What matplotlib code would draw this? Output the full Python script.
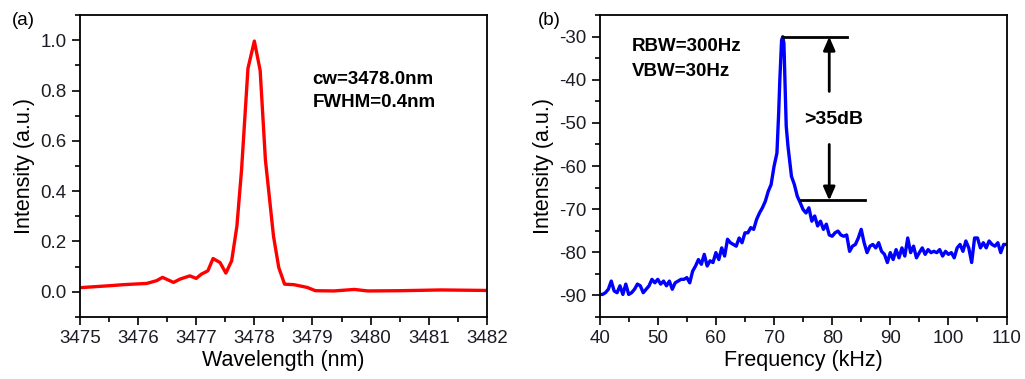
"""Recreate the two-panel laser spectrum figure: optical spectrum and RF spectrum"""
import matplotlib
matplotlib.use("Agg")
import matplotlib.pyplot as plt
from matplotlib.ticker import MultipleLocator

plt.rcParams["font.family"] = ["Liberation Sans", "DejaVu Sans"]
plt.rcParams["axes.unicode_minus"] = False

# (a) optical spectrum
wavelength = [3475.0, 3475.52, 3475.75, 3476.15, 3476.32, 3476.42, 3476.61,
              3476.72, 3476.89, 3477.0, 3477.09, 3477.2, 3477.29, 3477.41,
              3477.51, 3477.61, 3477.70, 3477.78, 3477.89, 3478.0, 3478.1,
              3478.19, 3478.33, 3478.42, 3478.52, 3478.68, 3478.91, 3479.05,
              3479.37, 3479.72, 3479.95, 3480.52, 3481.21, 3482.0]
intensity_a = [0.016, 0.024, 0.028, 0.033, 0.044, 0.057, 0.037,
               0.050, 0.063, 0.053, 0.070, 0.083, 0.132, 0.116,
               0.074, 0.123, 0.261, 0.485, 0.888, 0.997, 0.880,
               0.525, 0.220, 0.096, 0.030, 0.028, 0.017, 0.004,
               0.003, 0.009, 0.003, 0.004, 0.007, 0.005]

# (b) RF beat spectrum
frequency = [40, 40.5, 41, 41.5, 42, 42.5, 43, 43.5, 44, 44.5, 45, 45.5, 46,
             46.5, 47, 47.5, 48, 48.5, 49, 49.5, 50, 50.5, 51, 51.5, 52, 52.5,
             53, 53.5, 54, 54.5, 55, 55.5, 56, 56.5, 57, 57.5, 58, 58.5, 59,
             59.5, 60, 60.5, 61, 61.5, 62, 62.5, 63, 63.5, 64, 64.5, 65, 65.5,
             66, 66.5, 67, 67.5, 68, 68.5, 69, 69.5, 70, 70.5, 70.8, 71, 71.3,
             71.5, 71.7, 71.9, 72.1, 72.4, 72.8, 73, 73.5, 74, 74.5, 75, 75.5,
             76, 76.5, 77, 77.5, 78, 78.5, 79, 79.5, 80, 80.5, 81, 81.5, 82,
             82.5, 83, 83.5, 84, 84.5, 85, 85.5, 86, 86.5, 87, 87.5, 88, 88.5,
             89, 89.5, 90, 90.5, 91, 91.5, 92, 92.5, 93, 93.5, 94, 94.5, 95,
             95.5, 96, 96.5, 97, 97.5, 98, 98.5, 99, 99.5, 100, 100.5, 101,
             101.5, 102, 102.5, 103, 103.5, 104, 104.5, 105, 105.5, 106, 106.5,
             107, 107.5, 108, 108.5, 109, 109.5, 110]
intensity_b = [-89.8, -89.8, -89.4, -88.6, -86.7, -89.0, -89.4, -87.8, -89.8,
               -87.4, -89.8, -89.4, -88.6, -87.4, -87.8, -89.4, -88.6, -87.8,
               -86.3, -87.1, -86.3, -87.4, -86.7, -87.8, -86.7, -88.6, -87.1,
               -86.7, -86.3, -86.3, -85.9, -87.1, -84.4, -83.2, -81.7, -82.8,
               -80.5, -83.2, -82.0, -82.4, -80.1, -81.7, -79.0, -80.9, -77.0,
               -77.8, -78.2, -78.6, -76.7, -77.8, -75.5, -75.5, -74.3, -74.7,
               -72.4, -70.9, -69.7, -68.2, -65.9, -64.3, -60.1, -57.0, -47.7,
               -40.0, -30.8, -30.0, -31.5, -40.8, -50.8, -55.4, -60.1, -62.4,
               -64.3, -67.0, -68.5, -70.1, -70.9, -69.7, -72.8, -71.6, -73.9,
               -72.8, -74.7, -73.5, -76.0, -76.3, -75.5, -75.1, -76.0, -76.3,
               -76.0, -79.8, -78.6, -78.2, -76.7, -74.7, -77.8, -80.1, -78.6,
               -78.2, -79.0, -77.8, -79.8, -80.5, -82.4, -80.1, -81.7, -79.4,
               -81.3, -79.0, -80.9, -76.7, -80.1, -78.6, -81.3, -80.1, -79.0,
               -80.5, -79.4, -80.1, -79.8, -80.1, -79.4, -80.9, -79.8, -80.5,
               -80.1, -81.3, -79.0, -78.2, -79.8, -77.4, -79.0, -82.4, -76.7,
               -76.7, -79.0, -77.8, -79.0, -77.4, -78.2, -78.6, -77.8, -80.1,
               -78.2, -78.2]

TICK_COLOR = "#1c1c24"


def style_axes(ax):
    """Origin-like frame: outward ticks on bottom and left only"""
    for spine in ax.spines.values():
        spine.set_linewidth(1.3)
    ax.tick_params(which="both", direction="out", top=False, right=False,
                   labelsize=13.5, labelcolor=TICK_COLOR, width=1.2)
    ax.tick_params(which="major", length=6)
    ax.tick_params(which="minor", length=3.5)


def main():
    """Draw both panels and save out.png"""
    fig = plt.figure(figsize=(10.25, 3.79), dpi=100)
    ax_a = fig.add_axes([0.078, 0.164, 0.397, 0.796])
    ax_b = fig.add_axes([0.585, 0.164, 0.397, 0.796])

    # panel (a)
    ax_a.plot(wavelength, intensity_a, color="#ff0000", lw=2.4)
    ax_a.set_xlim(3475, 3482)
    ax_a.set_ylim(-0.1, 1.1)
    ax_a.xaxis.set_major_locator(MultipleLocator(1))
    ax_a.xaxis.set_minor_locator(MultipleLocator(0.5))
    ax_a.yaxis.set_major_locator(MultipleLocator(0.2))
    ax_a.yaxis.set_minor_locator(MultipleLocator(0.1))
    ax_a.set_xticks(range(3475, 3483))
    ax_a.set_yticks([0.0, 0.2, 0.4, 0.6, 0.8, 1.0])
    ax_a.set_xlabel("Wavelength (nm)", fontsize=15.5, labelpad=2)
    ax_a.set_ylabel("Intensity (a.u.)", fontsize=15.5, labelpad=4)
    ax_a.text(3479.0, 0.846, "cw=3478.0nm", fontsize=13.5,
              fontweight="bold", va="center")
    ax_a.text(3479.0, 0.752, "FWHM=0.4nm", fontsize=13.5,
              fontweight="bold", va="center")
    style_axes(ax_a)

    # panel (b)
    ax_b.plot(frequency, intensity_b, color="#0000ff", lw=2.4)
    ax_b.set_xlim(40, 110)
    ax_b.set_ylim(-95, -25)
    ax_b.xaxis.set_major_locator(MultipleLocator(10))
    ax_b.xaxis.set_minor_locator(MultipleLocator(5))
    ax_b.yaxis.set_major_locator(MultipleLocator(10))
    ax_b.yaxis.set_minor_locator(MultipleLocator(5))
    ax_b.set_yticks([-90, -80, -70, -60, -50, -40, -30])
    ax_b.set_xlabel("Frequency (kHz)", fontsize=15.5, labelpad=2)
    ax_b.set_ylabel("Intensity (a.u.)", fontsize=15.5, labelpad=4)
    ax_b.text(45.5, -32.3, "RBW=300Hz", fontsize=13.5,
              fontweight="bold", va="center")
    ax_b.text(45.5, -38.1, "VBW=30Hz", fontsize=13.5,
              fontweight="bold", va="center")

    # peak-to-floor markers
    ax_b.plot([71.6, 82.5], [-30, -30], color="black", lw=2)
    ax_b.plot([74.7, 85.6], [-68, -68], color="black", lw=2)
    arrow = dict(arrowstyle="-|>,head_length=0.8,head_width=0.35",
                 color="black", lw=2, shrinkA=0, shrinkB=0)
    ax_b.annotate("", xy=(79.5, -30), xytext=(79.5, -42.7), arrowprops=arrow)
    ax_b.annotate("", xy=(79.5, -68), xytext=(79.5, -55.0), arrowprops=arrow)
    ax_b.text(80.2, -49.3, ">35dB", fontsize=14, fontweight="bold",
              ha="center", va="center")
    style_axes(ax_b)

    fig.text(0.012, 0.945, "(a)", fontsize=13.5, va="center")
    fig.text(0.525, 0.945, "(b)", fontsize=13.5, va="center")

    fig.savefig("out.png", dpi=100)


if __name__ == "__main__":
    main()
